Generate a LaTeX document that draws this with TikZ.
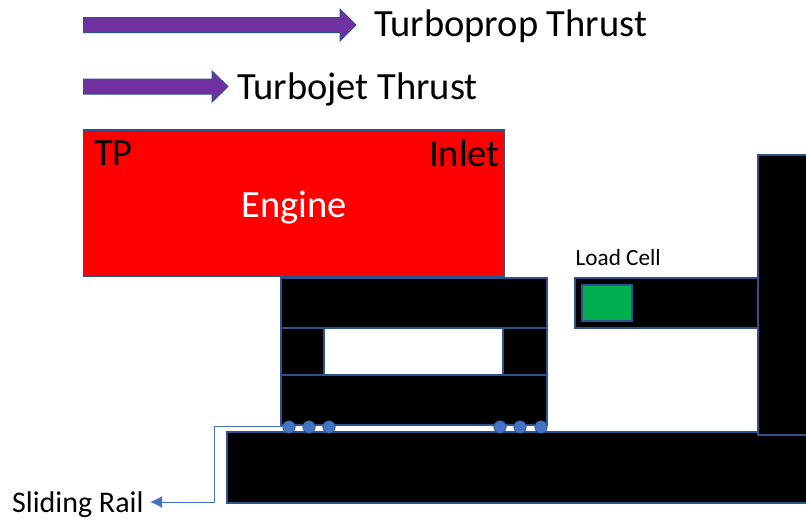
\documentclass[tikz,border=0pt]{standalone}
\usepackage{fontspec}
\setmainfont{Carlito}
\usetikzlibrary{arrows.meta}
\definecolor{edgeblue}{HTML}{2F528F}
\definecolor{leader}{HTML}{4472C4}
\definecolor{thrust}{HTML}{7030A0}
\definecolor{loadgreen}{HTML}{00B050}
\tikzset{
  x=1pt,y=-1pt,
  boxbase/.style={draw=edgeblue,line width=1.4pt,anchor=north west,inner sep=0pt,outer sep=0pt},
  blackbox/.style={boxbase,fill=black},
  enginebox/.style={boxbase,fill=red},
  greenbox/.style={boxbase,fill=loadgreen,line width=2pt},
  dotnode/.style={circle,fill=leader,draw=edgeblue,line width=.6pt,minimum size=12.5pt,inner sep=0pt,outer sep=0pt},
  thrustarrow/.style={draw=edgeblue,line width=1pt,fill=thrust},
  bigtext/.style={font=\fontsize{38.5}{46}\selectfont,inner sep=0pt,text=black},
  leaderline/.style={draw=leader,line width=1pt,-{Latex[length=12pt,width=12pt]}}
}
\begin{document}
\begin{tikzpicture}
\useasboundingbox (0,0) rectangle (806,523);
% thrust arrows
\draw[thrustarrow] (83.5,17.5) -- (340,17.5) -- (340,9) -- (356,25) -- (340,41) -- (340,32.5) -- (83.5,32.5) -- cycle;
\draw[thrustarrow] (83.5,79) -- (212,79) -- (212,71) -- (228,86.5) -- (212,102) -- (212,94) -- (83.5,94) -- cycle;
\node[bigtext,anchor=west] (tpthrust) at (374,26) {Turboprop Thrust};
\node[bigtext,anchor=west] (tjthrust) at (237,89) {Turbojet Thrust};
% engine
\node[enginebox,minimum width=420.5pt,minimum height=146pt] (engine) at (83.5,130) {};
\node[bigtext,anchor=west] (tp) at (94,153.5) {TP};
\node[bigtext,anchor=east] (inlet) at (500,153.5) {Inlet};
\node[bigtext,text=white] (enginelabel) at (294,207.5) {Engine};
% carriage
\node[blackbox,minimum width=266pt,minimum height=50pt] (top) at (281,278) {};
\node[blackbox,minimum width=43pt,minimum height=47pt] (legl) at (281,328) {};
\node[blackbox,minimum width=44pt,minimum height=47pt] (legr) at (503,328) {};
\node[blackbox,minimum width=266pt,minimum height=50pt] (bottom) at (281,375) {};
% base, tower, load cell
\node[blackbox,minimum width=600pt,minimum height=71pt] (base) at (227,432) {};
\node[blackbox,minimum width=60pt,minimum height=280pt] (tower) at (758,155) {};
\node[blackbox,minimum width=183pt,minimum height=50pt] (arm) at (575,278) {};
\node[greenbox,minimum width=50pt,minimum height=36pt] (cell) at (581.5,285) {};
\node[font=\fontsize{23.2}{28}\selectfont,inner sep=0pt,anchor=west] (celllabel) at (575.5,258) {Load Cell};
% rollers
\foreach \n/\px in {a/289,b/309,c/329,d/500,e/520,f/541}
  \node[dotnode] (dot\n) at (\px,427) {};
% leader
\node[font=\fontsize{30}{36}\selectfont,inner sep=0pt,anchor=west] (rail) at (12,505) {Sliding Rail};
\coordinate (bendtop) at (214,426);
\coordinate (bendlow) at (214,502);
\coordinate (railtip) at (150,502);
\draw[leaderline] (dota.west |- bendtop) -- (bendtop) -- (bendlow) -- (railtip);
\end{tikzpicture}
\end{document}
